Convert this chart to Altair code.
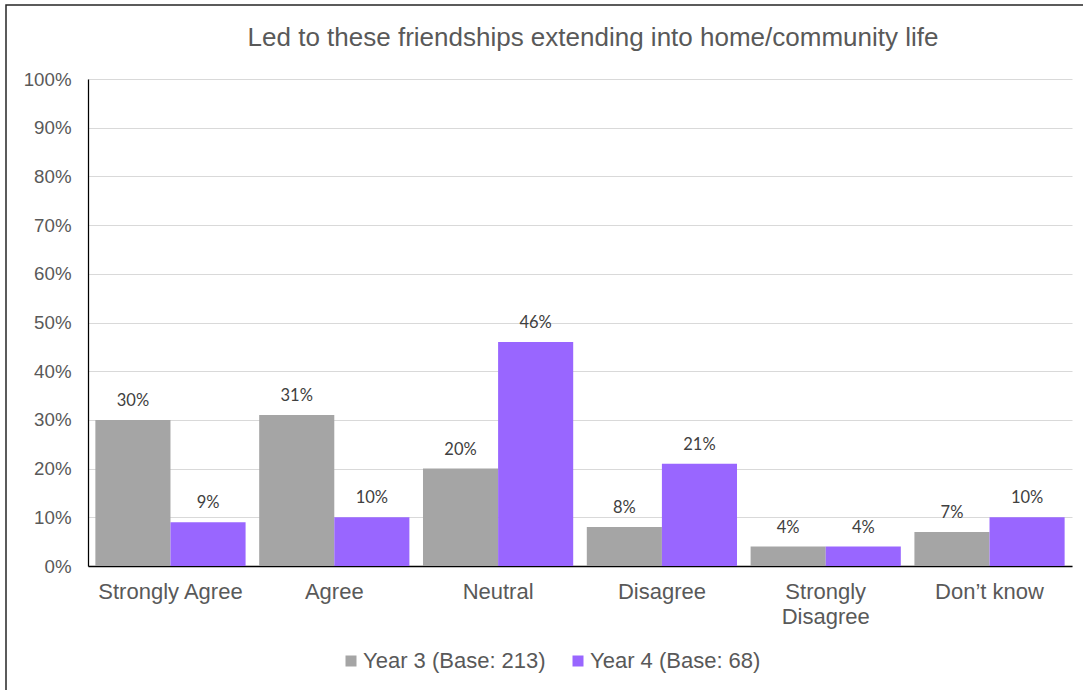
import altair as alt
import pandas as pd

categories = ["Strongly Agree", "Agree", "Neutral", "Disagree", "Strongly Disagree", "Don’t know"]
year3 = [0.30, 0.31, 0.20, 0.08, 0.04, 0.07]
year4 = [0.09, 0.10, 0.46, 0.21, 0.04, 0.10]
series = ["Year 3 (Base: 213)", "Year 4 (Base: 68)"]
colors = ["#A5A5A5", "#9966FF"]
y_ticks = [0, 0.1, 0.2, 0.3, 0.4, 0.5, 0.6, 0.7, 0.8, 0.9, 1.0]
title_text = "Led to these friendships extending into home/community life"

rows = []
for c, a, b in zip(categories, year3, year4):
    rows.append({"cat": c, "series": series[0], "value": a})
    rows.append({"cat": c, "series": series[1], "value": b})
df = pd.DataFrame(rows)
meta = pd.DataFrame({"t": [title_text]})

W, H = 984, 487

x_enc = alt.X(
    "cat:N",
    sort=categories,
    scale=alt.Scale(paddingInner=0.083, paddingOuter=0.045),
    axis=alt.Axis(
        title=None, labelAngle=0, labelFont="Liberation Sans", labelFontSize=22,
        labelColor="#595959", labelPadding=15, labelBaseline="top", ticks=False, tickSize=0,
        domainColor="#000000", domainWidth=1.5, grid=False,
        labelExpr="datum.label == 'Strongly Disagree' ? ['Strongly', 'Disagree'] : datum.label",
        labelLineHeight=25,
    ),
)
xoff = alt.XOffset("series:N", sort=series, scale=alt.Scale(paddingInner=0, paddingOuter=0))
y_enc = alt.Y(
    "value:Q",
    scale=alt.Scale(domain=[0, 1]),
    axis=alt.Axis(
        title=None, format=".0%", values=y_ticks, labelFont="Liberation Sans", labelFontSize=18.7,
        labelColor="#595959", labelPadding=17, ticks=False, tickSize=0,
        domainColor="#000000", domainWidth=1.25, gridColor="#D9D9D9", gridWidth=1,
    ),
)

base = alt.Chart(df)

bars = base.mark_bar().encode(
    x=x_enc,
    xOffset=xoff,
    y=y_enc,
    color=alt.Color(
        "series:N",
        scale=alt.Scale(domain=series, range=colors),
        legend=alt.Legend(
            title=None, orient="none", legendX=252, legendY=571, direction="horizontal",
            symbolType="square", symbolSize=121, symbolStrokeWidth=0,
            labelFont="Liberation Sans", labelFontSize=22, labelColor="#595959",
            labelOffset=1, columnPadding=21, padding=0, labelLimit=0,
        ),
    ),
)

labels = base.mark_text(
    dy=-14, baseline="alphabetic", font="Lato", fontSize=16.5, color="#404040"
).encode(
    x=x_enc,
    xOffset=xoff,
    y=y_enc,
    text=alt.Text("value:Q", format=".0%"),
)

title = alt.Chart(meta).mark_text(
    font="Liberation Sans", fontSize=26, color="#595959", baseline="alphabetic", align="center"
).encode(text="t:N", x=alt.value(505), y=alt.value(-33))

border = alt.Chart(meta).mark_rect(
    fill="transparent", stroke="#262626", strokeWidth=1.5
).encode(x=alt.value(-82), x2=alt.value(1100), y=alt.value(-74), y2=alt.value(700))

chart = alt.layer(border, bars, labels, title).properties(
    width=W, height=H,
    autosize=alt.AutoSizeParams(type="none"),
    padding={"left": 88, "top": 79, "right": 11, "bottom": 124},
    background="white",
).configure_view(stroke="transparent")

chart.save("out.html", embed_options={"renderer": "svg", "actions": False})
